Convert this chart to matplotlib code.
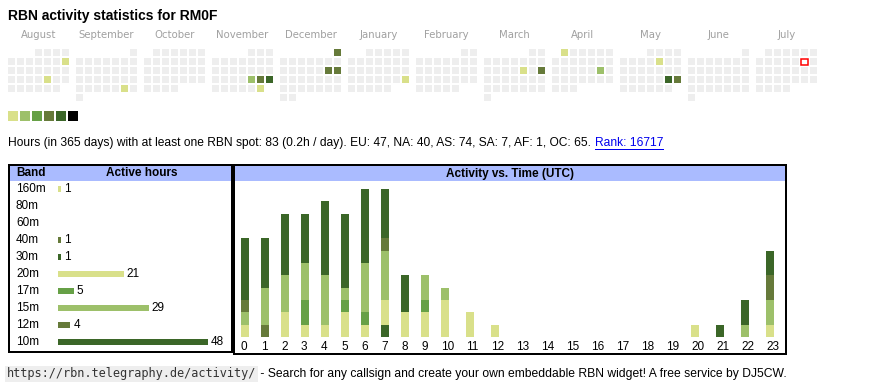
import calendar
import datetime

import matplotlib
matplotlib.use("Agg")
import matplotlib.pyplot as plt
import matplotlib.transforms as mtransforms
from matplotlib.patches import Rectangle
import numpy as np

W, H = 870, 390

# colour scale (level 1..6)
LEVEL_COLORS = ["#d9e08a", "#9dc06a", "#66a046", "#667a3a", "#3b6628", "#000000"]
EMPTY = "#eeeeee"
HEAD_BLUE = "#aabbff"

TITLE = "RBN activity statistics for RM0F"
MONTHS = [(2024, 8), (2024, 9), (2024, 10), (2024, 11), (2024, 12), (2025, 1),
          (2025, 2), (2025, 3), (2025, 4), (2025, 5), (2025, 6), (2025, 7)]
MONTH_NAMES = ["August", "September", "October", "November", "December", "January",
               "February", "March", "April", "May", "June", "July"]
TODAY = datetime.date(2025, 7, 12)

# days with spots -> colour level
ACTIVE_DAYS = {
    "2024-08-11": 1, "2024-08-23": 1, "2024-09-28": 1,
    "2024-11-22": 2, "2024-11-23": 4, "2024-11-24": 5, "2024-11-30": 1,
    "2024-12-01": 4, "2024-12-14": 4, "2024-12-15": 4,
    "2025-01-26": 1, "2025-03-14": 1, "2025-03-16": 4,
    "2025-04-01": 1, "2025-04-19": 2,
    "2025-05-09": 1, "2025-05-24": 5, "2025-05-25": 4,
}

INFO = ("Hours (in 365 days) with at least one RBN spot: 83 (0.2h / day). "
        "EU: 47, NA: 40, AS: 74, SA: 7, AF: 1, OC: 65.")
RANK = "Rank: 16717"
URL = "https://rbn.telegraphy.de/activity/"
FOOTER = " - Search for any callsign and create your own embeddable RBN widget! A free service by DJ5CW."

# band table
BANDS = ["160m", "80m", "60m", "40m", "30m", "20m", "17m", "15m", "12m", "10m"]
BAND_HOURS = [1, 0, 0, 1, 1, 21, 5, 29, 4, 48]
BAND_COLORS = ["#d9e08a", "#9dc06a", "#66a046", "#667a3a", "#3b6628",
               "#d9e08a", "#66a046", "#9dc06a", "#667a3a", "#3b6628"]

# activity per UTC hour, per band
HOURS = list(range(24))
HOURLY = {
    "160m": [0, 0, 0, 0, 0, 0, 0, 0, 0, 0, 0, 0, 1, 0, 0, 0, 0, 0, 0, 0, 0, 0, 0, 0],
    "40m":  [0, 1, 0, 0, 0, 0, 0, 0, 0, 0, 0, 0, 0, 0, 0, 0, 0, 0, 0, 0, 0, 0, 0, 0],
    "30m":  [0, 0, 0, 0, 0, 0, 0, 1, 0, 0, 0, 0, 0, 0, 0, 0, 0, 0, 0, 0, 0, 0, 0, 0],
    "20m":  [1, 0, 2, 1, 1, 2, 1, 2, 2, 2, 3, 2, 0, 0, 0, 0, 0, 0, 0, 0, 1, 0, 0, 1],
    "17m":  [0, 0, 0, 2, 0, 1, 1, 0, 0, 1, 0, 0, 0, 0, 0, 0, 0, 0, 0, 0, 0, 0, 0, 0],
    "15m":  [1, 3, 3, 3, 4, 1, 4, 4, 0, 2, 1, 0, 0, 0, 0, 0, 0, 0, 0, 0, 0, 0, 1, 2],
    "12m":  [1, 0, 0, 0, 0, 0, 0, 1, 0, 0, 0, 0, 0, 0, 0, 0, 0, 0, 0, 0, 0, 0, 0, 2],
    "10m":  [5, 4, 5, 4, 6, 6, 6, 4, 3, 0, 0, 0, 0, 0, 0, 0, 0, 0, 0, 0, 0, 1, 2, 2],
}

SANS = "Liberation Sans"
PX = 0.72  # one pixel in points
FS = 8.5   # table / chart text
FS_INFO = 8.62
FS_FOOT = 8.72


def px_axes(fig, left, top, width, height):
    return fig.add_axes([left / W, 1 - (top + height) / H, width / W, height / H])


fig = plt.figure(figsize=(W / 100, H / 100), dpi=100)
ax = px_axes(fig, 0, 0, W, H)
ax.set_xlim(0, W)
ax.set_ylim(H, 0)
ax.axis("off")

ax.text(8, 16, TITLE, fontsize=10, fontweight="bold", family=SANS, va="center")

# calendar
for m, ((year, month), name) in enumerate(zip(MONTHS, MONTH_NAMES)):
    x0 = 8 + 68 * m
    ax.text(x0 + 30.5, 35, name, fontsize=7.3, color="#a0a0a0", ha="center", va="center",
            family="DejaVu Sans")
    first = datetime.date(year, month, 1)
    ndays = calendar.monthrange(year, month)[1]
    for d in range(ndays):
        day = first + datetime.timedelta(days=d)
        idx = first.weekday() + d
        row, col = divmod(idx, 7)
        level = ACTIVE_DAYS.get(day.isoformat(), 0)
        face = LEVEL_COLORS[level - 1] if level else EMPTY
        x, y = x0 + 9 * col, 49 + 9 * row
        if day == TODAY:
            ax.add_patch(Rectangle((x + 0.5, y + 0.5), 6.5, 6.5, facecolor="white",
                                   edgecolor="#ff0000", lw=1.1))
        else:
            ax.add_patch(Rectangle((x, y), 7, 7, facecolor=face, edgecolor="none"))

for k, c in enumerate(LEVEL_COLORS):
    ax.add_patch(Rectangle((8 + 12 * k, 111), 10, 10, facecolor=c, edgecolor="none"))

# info line with rank link
info = ax.text(8, 143, INFO, fontsize=FS_INFO, family=SANS, va="center")
fig.canvas.draw()
renderer = fig.canvas.get_renderer()
inv = ax.transData.inverted()
bb = info.get_window_extent(renderer)
x_end = inv.transform((bb.x1, bb.y0))[0]
rank = ax.text(x_end + 4, 143, RANK, fontsize=FS_INFO, family=SANS, va="center",
               color="#0000ee")
rb = rank.get_window_extent(renderer)
rx0 = inv.transform((rb.x0, rb.y0))[0]
rx1 = inv.transform((rb.x1, rb.y0))[0]
ax.plot([rx0, rx1], [148.5, 148.5], color="#0000ee", lw=1 * PX)

# band table frame
ax.add_patch(Rectangle((9, 165), 223, 187, facecolor="white", edgecolor="black", lw=2 * PX))
ax.add_patch(Rectangle((10, 166), 221, 15, facecolor=HEAD_BLUE, edgecolor="none"))
ax.text(16, 173.5, "Band", fontsize=FS, fontweight="bold", family=SANS, va="center")
ax.text(142, 173.5, "Active hours", fontsize=FS, fontweight="bold", family=SANS,
        va="center", ha="center")

# activity frame
ax.add_patch(Rectangle((234, 165), 552, 189, facecolor="white", edgecolor="black", lw=2 * PX))
ax.add_patch(Rectangle((235, 166), 550, 15, facecolor=HEAD_BLUE, edgecolor="none"))
ax.text(510, 173.5, "Activity vs. Time (UTC)", fontsize=FS, fontweight="bold",
        family=SANS, va="center", ha="center")

# band bars
ax_band = px_axes(fig, 58, 180.5, 150, 170)
ax_band.set_xlim(0, 48)
ax_band.set_ylim(len(BANDS) - 0.5, -0.5)
ax_band.axis("off")
ypos = np.arange(len(BANDS))
ax_band.barh(ypos, BAND_HOURS, height=0.41, color=BAND_COLORS, left=0)
band_tr = mtransforms.blended_transform_factory(ax.transData, ax_band.transData)
for i, (b, v) in enumerate(zip(BANDS, BAND_HOURS)):
    ax_band.text(16, i, b, transform=band_tr, fontsize=FS, family=SANS, va="center")
    if v > 0:
        ax_band.annotate(str(v), (v, i), xytext=(3, 0), textcoords="offset pixels",
                         fontsize=FS, family=SANS, va="center")

# activity vs time
hour_w = [20 if h < 10 else 25 for h in HOURS]
hour_x = 241 + np.concatenate([[0], np.cumsum(hour_w)[:-1]])
unit = 12.33
ax_act = px_axes(fig, 235, 182, 550, 155)
ax_act.set_xlim(235, 785)
ax_act.set_ylim(0, 155 / unit)
ax_act.axis("off")
bottom = np.zeros(len(HOURS))
for b in BANDS:
    if b not in HOURLY:
        continue
    vals = np.array(HOURLY[b])
    ax_act.bar(hour_x, vals, width=8, bottom=bottom, align="edge",
               color=BAND_COLORS[BANDS.index(b)])
    bottom += vals
hour_tr = mtransforms.blended_transform_factory(ax_act.transData, ax.transData)
for h, x in zip(HOURS, hour_x):
    ax_act.text(x, 346.5, str(h), transform=hour_tr, fontsize=FS, family=SANS, va="center")

# footer
url = ax.text(7, 374, URL, fontsize=8.6, family="DejaVu Sans Mono", va="center",
              color="#333333",
              bbox=dict(boxstyle="square,pad=0.15", facecolor="#eeeeee", edgecolor="none"))
ub = url.get_window_extent(renderer)
ux1 = inv.transform((ub.x1, ub.y0))[0]
ax.text(ux1 + 1, 374, FOOTER, fontsize=FS_FOOT, family=SANS, va="center")

fig.savefig("out.png", dpi=100)
